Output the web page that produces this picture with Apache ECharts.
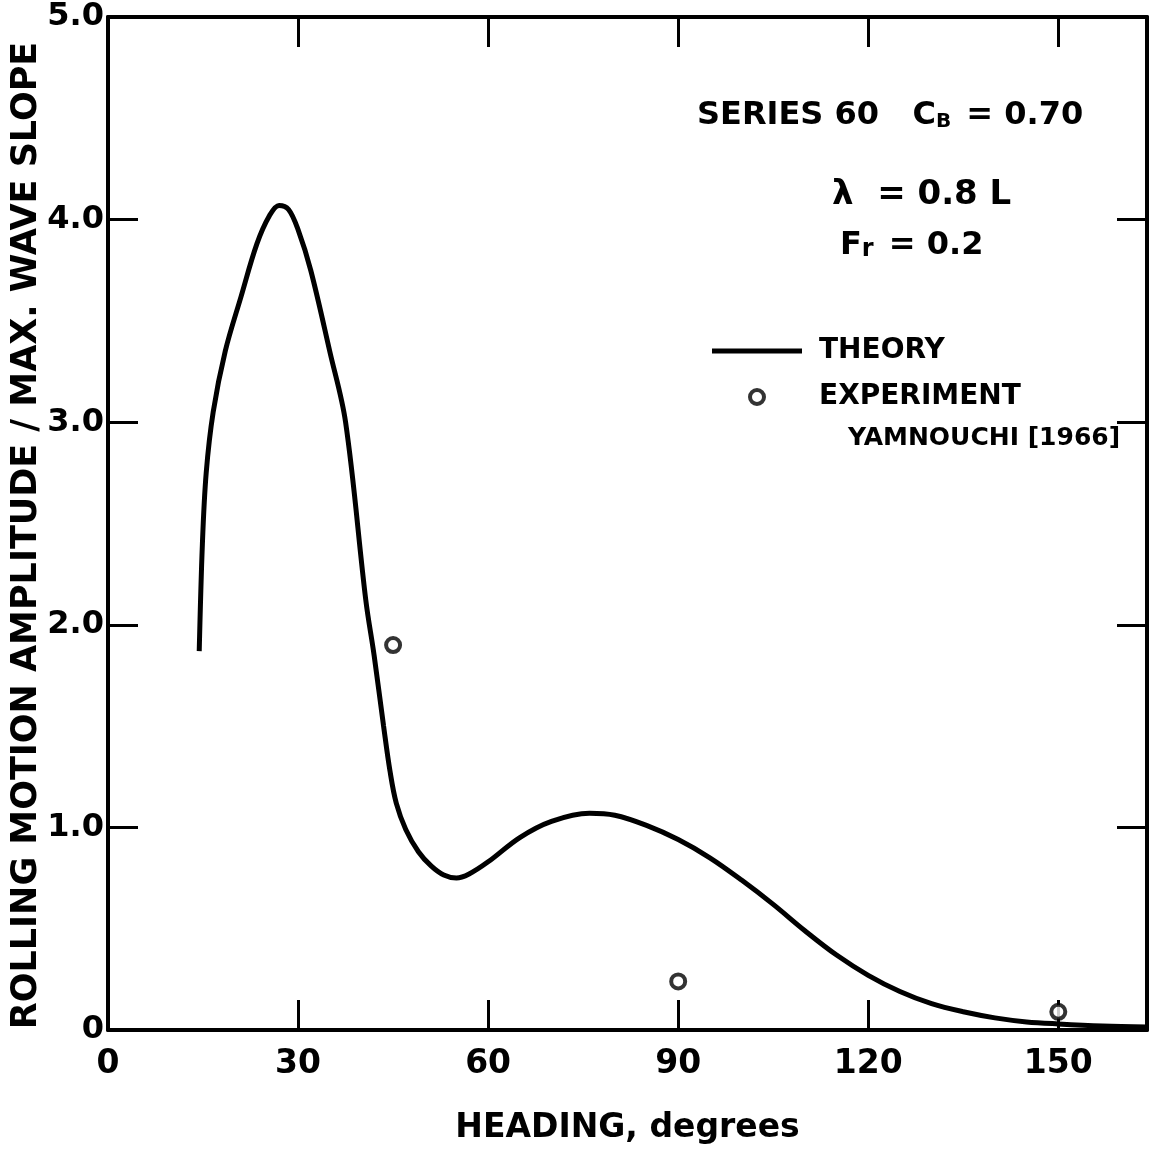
<!DOCTYPE html>
<html>
<head>
<meta charset="utf-8">
<script src="https://cdn.jsdelivr.net/npm/echarts@6/dist/echarts.min.js"></script>
<style>html,body{margin:0;padding:0;background:#fff}#c{width:1158px;height:1155px}</style>
</head>
<body>
<div id="c"></div>
<script>
// Theory curve: heading (deg) and rolling amplitude / max wave slope
const theoryHeading = [14.4,14.9,15.5,16.6,18.5,21.0,23.5,25.5,27.0,28.5,30.0,32.0,35.0,37.5,40.7,42.0,43.5,44.5,45.5,47.0,49.0,51.0,53.0,55.0,57.0,60.0,65.0,70.0,76.0,80.0,85.0,90.0,95.0,100.0,105.0,110.0,115.0,120.0,125.0,130.0,135.0,140.0,145.0,150.0,157.0,164.0];
const theoryValue   = [1.87,2.40,2.75,3.05,3.35,3.62,3.88,4.02,4.07,4.05,3.95,3.75,3.35,3.00,2.12,1.85,1.50,1.28,1.12,0.99,0.88,0.81,0.765,0.75,0.77,0.83,0.95,1.03,1.07,1.06,1.01,0.94,0.85,0.74,0.62,0.49,0.37,0.27,0.19,0.13,0.09,0.06,0.04,0.03,0.02,0.015];
// Experiment (Yamnouchi 1966)
const expHeading = [45, 90, 150];
const expValue   = [1.90, 0.24, 0.09];
// Axis ticks
const xTicks = [0, 30, 60, 90, 120, 150];
const yTicks = [0, 1, 2, 3, 4, 5];

const FONT = 'DejaVu Sans';
const chart = echarts.init(document.getElementById('c'), null, {renderer: 'canvas'});

const theoryData = theoryHeading.map((h, i) => [h, theoryValue[i]]);
const expData = expHeading.map((h, i) => [h, expValue[i]]);

const axisLine = {show: true, onZero: false, lineStyle: {color: '#000', width: 4}};
const tick = {show: true, inside: true, length: 30, lineStyle: {color: '#000', width: 3}};

const option = {
  backgroundColor: '#fff',
  animation: false,
  grid: {left: 108, right: 11, top: 17, bottom: 125, show: false, containLabel: false, outerBoundsMode: 'none'},
  xAxis: [{
    type: 'value', min: 0, max: 164, interval: 30, position: 'bottom',
    axisLine: axisLine, axisTick: tick, splitLine: {show: false},
    axisLabel: {show: true, margin: 18, color: '#000', fontFamily: FONT, fontSize: 33, fontWeight: 'bold',
      formatter: v => xTicks.indexOf(v) >= 0 ? String(v) : ''},
    name: 'HEADING, degrees', nameLocation: 'middle', nameGap: 82, nameMoveOverlap: false,
    nameTextStyle: {color: '#000', fontFamily: FONT, fontSize: 33, fontWeight: 'bold'}
  }, {
    type: 'value', min: 0, max: 164, interval: 30, position: 'top',
    axisLine: axisLine, axisTick: tick, splitLine: {show: false}, axisLabel: {show: false}
  }],
  yAxis: [{
    type: 'value', min: 0, max: 5, interval: 1, position: 'left',
    axisLine: axisLine, axisTick: tick, splitLine: {show: false},
    axisLabel: {show: true, margin: 4, color: '#000', fontFamily: FONT, fontSize: 32, fontWeight: 'bold',
      formatter: v => yTicks.indexOf(v) >= 0 ? (v === 0 ? '0' : v.toFixed(1)) : ''},
    name: 'ROLLING MOTION AMPLITUDE / MAX. WAVE SLOPE', nameLocation: 'middle', nameGap: 64, nameMoveOverlap: false,
    nameTextStyle: {color: '#000', fontFamily: FONT, fontSize: 35, fontWeight: 'bold', padding: [0, 24, 0, 0]}
  }, {
    type: 'value', min: 0, max: 5, interval: 1, position: 'right',
    axisLine: axisLine, axisTick: tick, splitLine: {show: false}, axisLabel: {show: false}
  }],
  legend: {
    orient: 'vertical', left: 707, top: 332, itemWidth: 90, itemHeight: 14, itemGap: 18,
    textStyle: {color: '#000', fontFamily: FONT, fontSize: 28, fontWeight: 'bold', padding: [0,0,0,12]},
    data: [
      {name: 'THEORY', icon: 'path://M0,0 L90,0 L90,5 L0,5 Z', itemStyle: {color: '#000'}},
      {name: 'EXPERIMENT', icon: 'circle', itemStyle: {color: '#fff', borderColor: '#000', borderWidth: 4}}
    ]
  },
  series: [{
    name: 'THEORY', type: 'line', data: theoryData, smooth: 0.35,
    symbol: 'none', lineStyle: {color: '#000', width: 5}, itemStyle: {color: '#000'}
  }, {
    name: 'EXPERIMENT', type: 'scatter', data: expData, symbol: 'circle', symbolSize: 14,
    itemStyle: {color: '#fff', borderColor: '#000', borderWidth: 4}
  }],
  graphic: [{
    type: 'text', left: 697, top: 100,
    style: {
      text: '{a|SERIES 60   C}{s|B}{a| = 0.70}',
      rich: {
        a: {fontFamily: FONT, fontSize: 32, fontWeight: 'bold', fill: '#000', verticalAlign: 'bottom'},
        s: {fontFamily: FONT, fontSize: 20, fontWeight: 'bold', fill: '#000', padding: [18,4,0,0], verticalAlign: 'bottom'}
      }
    }
  }, {
    type: 'text', left: 832, top: 178,
    style: {text: 'λ  = 0.8 L', font: 'bold 34px "DejaVu Sans"', fill: '#000'}
  }, {
    type: 'text', left: 840, top: 230,
    style: {
      text: '{a|F}{s|r}{a| = 0.2}',
      rich: {
        a: {fontFamily: FONT, fontSize: 32, fontWeight: 'bold', fill: '#000', verticalAlign: 'bottom'},
        s: {fontFamily: FONT, fontSize: 24, fontWeight: 'bold', fill: '#000', padding: [10,4,0,0], verticalAlign: 'bottom'}
      }
    }
  }, {
    type: 'text', left: 848, top: 426,
    style: {text: 'YAMNOUCHI [1966]', font: 'bold 25px "DejaVu Sans"', fill: '#000'}
  }]
};
chart.setOption(option);
</script>
</body>
</html>
